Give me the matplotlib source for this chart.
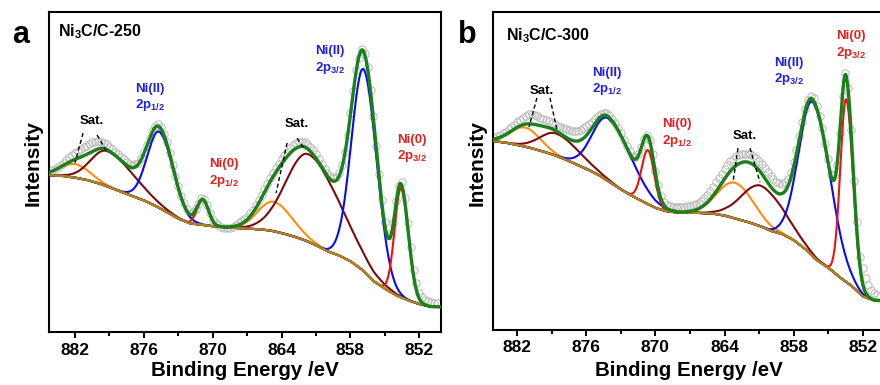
import numpy as np
import matplotlib
matplotlib.use('Agg')
import matplotlib.pyplot as plt

plt.rcParams['font.family'] = ['Liberation Sans', 'DejaVu Sans']
plt.rcParams['font.weight'] = 'bold'
plt.rcParams['mathtext.fontset'] = 'custom'
plt.rcParams['mathtext.rm'] = 'Liberation Sans:bold'
plt.rcParams['mathtext.it'] = 'Liberation Sans:bold'
plt.rcParams['mathtext.bf'] = 'Liberation Sans:bold'

# ---------------- data (binding energy in eV, intensity in arbitrary units) ----------
bg_energy = np.arange(884.0, 849.5, -1.0)
bg_a = [49.0, 48.8, 48.3, 47.6, 46.6, 45.3, 43.9, 42.5, 41.2, 39.5, 37.5, 35.5,
        34.0, 33.6, 33.1, 32.8, 32.6, 32.4, 32.2, 31.8, 31.0, 30.0, 28.8, 27.2,
        25.3, 24.0, 22.2, 19.6, 16.0, 13.6, 11.5, 10.0, 8.8, 8.0, 7.9]
bg_b = [59.4, 58.9, 58.2, 57.4, 56.4, 55.3, 53.9, 52.3, 50.7, 48.9, 46.6, 44.2,
        42.1, 40.2, 38.4, 37.3, 36.9, 36.9, 36.8, 36.6, 36.0, 35.0, 34.0, 32.8,
        31.2, 30.2, 28.3, 25.5, 22.0, 19.6, 16.6, 14.0, 10.6, 9.3, 9.1]

# measured points every 0.25 eV from 884.0 down to 850.5 (one row per eV)
data_a = [
    50.6, 51.0, 51.5, 52.2,   # 884
    53.0, 53.8, 54.6, 55.3,   # 883
    56.0, 56.7, 57.3, 57.8,   # 882
    58.2, 58.8, 59.3, 59.5,   # 881
    59.6, 59.5, 59.2, 58.7,   # 880
    58.0, 57.3, 56.4, 55.6,   # 879
    54.8, 54.0, 53.2, 52.6,   # 878
    52.3, 52.4, 53.0, 54.3,   # 877
    56.2, 58.5, 60.8, 63.0,   # 876
    64.5, 64.9, 64.0, 62.0,   # 875
    59.4, 56.0, 52.3, 48.9,   # 874
    45.6, 42.7, 40.3, 38.5,   # 873
    37.4, 37.5, 38.4, 40.2,   # 872
    41.8, 41.6, 39.6, 37.1,   # 871
    35.2, 34.1, 33.5, 33.0,   # 870
    32.7, 32.6, 32.6, 33.0,   # 869
    33.5, 34.0, 34.6, 35.3,   # 868
    36.0, 37.1, 38.3, 39.7,   # 867
    41.2, 42.9, 44.6, 46.4,   # 866
    48.2, 49.8, 51.3, 52.7,   # 865
    54.0, 55.3, 56.4, 57.5,   # 864
    58.4, 59.0, 59.4, 59.5,   # 863
    59.3, 58.7, 57.9, 56.8,   # 862
    55.6, 54.1, 52.6, 51.1,   # 861
    49.8, 48.9, 48.3, 48.6,   # 860
    49.6, 52.2, 56.2, 61.7,   # 859
    68.5, 75.3, 81.8, 85.5,   # 858
    88.5, 87.0, 82.8, 75.6,   # 857
    67.5, 58.2, 49.3, 41.2,   # 856
    34.5, 30.8, 30.3, 34.0,   # 855
    41.0, 45.6, 46.8, 42.0,   # 854
    34.0, 26.5, 19.5, 15.3,   # 853
    12.2, 10.9, 10.2, 9.8,    # 852
    9.5, 9.3, 9.2,            # 851
]
data_b = [
    60.5, 60.9, 61.3, 61.8,   # 884
    62.4, 63.1, 63.8, 64.5,   # 883
    65.3, 66.1, 66.8, 67.4,   # 882
    67.8, 67.8, 67.6, 67.2,   # 881
    66.8, 66.4, 66.0, 65.6,   # 880
    65.2, 64.8, 64.3, 63.8,   # 879
    63.4, 63.1, 62.8, 62.6,   # 878
    62.6, 62.7, 63.0, 63.4,   # 877
    64.0, 64.7, 65.5, 66.4,   # 876
    67.3, 68.0, 68.3, 68.1,   # 875
    67.5, 66.4, 65.0, 63.5,   # 874
    61.8, 59.9, 58.0, 56.2,   # 873
    54.8, 54.3, 55.2, 57.6,   # 872
    60.2, 61.2, 59.8, 55.3,   # 871
    50.0, 45.5, 42.2, 40.4,   # 870
    39.3, 38.9, 38.7, 38.6,   # 869
    38.6, 38.7, 38.8, 38.9,   # 868
    39.0, 39.2, 39.5, 40.0,   # 867
    40.6, 41.5, 42.5, 43.7,   # 866
    45.0, 46.4, 47.8, 49.2,   # 865
    50.5, 51.8, 53.0, 53.9,   # 864
    54.6, 55.1, 55.4, 55.5,   # 863
    55.5, 55.2, 54.8, 54.1,   # 862
    53.3, 52.2, 51.0, 49.7,   # 861
    48.4, 47.4, 46.6, 46.1,   # 860
    46.0, 46.5, 47.6, 49.7,   # 859
    52.8, 56.6, 61.0, 65.5,   # 858
    69.5, 72.2, 73.6, 73.0,   # 857
    70.5, 67.2, 63.5, 58.6,   # 856
    53.8, 49.0, 48.6, 52.0,   # 855
    62.0, 73.5, 80.8, 76.0,   # 854
    63.0, 47.0, 34.0, 23.0,   # 853
    19.5, 16.2, 14.0, 12.6,   # 852
    11.6, 10.9, 10.4,         # 851
]

# fitted components: satellite, satellite, Ni(II) 2p1/2, Ni(0) 2p1/2,
#                    satellite, satellite, Ni(II) 2p3/2, Ni(0) 2p3/2
comp_kind = ['sat1', 'sat2', 'ni2', 'ni0', 'sat1', 'sat2', 'ni2', 'ni0']
centers_a = [882.0, 879.2, 874.65, 870.87, 864.7, 861.66, 856.86, 853.6]
heights_a = [4.2, 11.0, 23.8, 7.8, 9.2, 27.3, 63.0, 34.0]
sig_hi_a = [1.3, 1.4, 1.05, 0.5, 1.35, 1.95, 1.05, 0.55]
sig_lo_a = [1.3, 2.3, 1.2, 0.5, 1.6, 2.7, 1.15, 0.65]

centers_b = [881.3, 878.6, 874.12, 870.65, 863.1, 860.8, 856.34, 853.44]
heights_b = [6.0, 7.0, 19.7, 17.0, 11.2, 12.8, 48.5, 57.4]
sig_hi_b = [1.3, 1.4, 1.35, 0.55, 1.5, 1.7, 1.2, 0.5]
sig_lo_b = [1.3, 2.0, 2.0, 0.55, 1.6, 1.9, 1.5, 0.6]

x_ticks = [882, 876, 870, 864, 858, 852]

# ---------------- style ----------------
kind_color = {'sat1': '#ff8c12', 'sat2': '#7a0c0c', 'ni2': '#0a0af5', 'ni0': '#f01010'}
bg_color = '#a08a22'
fit_color = '#1a8019'
pt_color = '#b8b8b8'
txt_blue = '#2222dd'
txt_red = '#e02222'

W, H = 880, 385
fig = plt.figure(figsize=(W / 100, H / 100), dpi=100)


def rect(l, t, r, b):
    return [l / W, 1 - b / H, (r - l) / W, (b - t) / H]


def pk(e, c, h, shi, slo):
    s = np.where(e >= c, shi, slo)
    return h * np.exp(-(e - c) ** 2 / (2 * s ** 2))


def draw(ax, bg, data, cs, hs, shs, sls, xlim):
    e = np.linspace(xlim[0], xlim[1], 1500)
    b = np.interp(e, bg_energy[::-1], np.asarray(bg)[::-1])
    data_energy = 884.0 - 0.25 * np.arange(len(data))
    ax.plot(data_energy, data, 'o', mfc='none', mec=pt_color, ms=5.3, mew=0.7, zorder=1)
    total = np.zeros_like(e)
    for k, c, h, s1, s2 in zip(comp_kind, cs, hs, shs, sls):
        p = pk(e, c, h, s1, s2)
        total += p
        ax.plot(e, b + p, color=kind_color[k], lw=1.5, zorder=2)
    ax.plot(e, b, color=bg_color, lw=1.6, zorder=3)
    ax.plot(e, b + total, color=fit_color, lw=2.4, zorder=4)
    ax.set_xlim(*xlim)
    ax.set_ylim(0, 100)
    ax.set_yticks([])
    ax.set_xticks(x_ticks)
    ax.set_xticks([t - 3 for t in x_ticks[:-1]], minor=True)
    ax.tick_params(axis='x', which='major', direction='out', length=4.5, width=1.4,
                   labelsize=12.5, pad=3)
    ax.tick_params(axis='x', which='minor', direction='out', length=3, width=1.4)
    for lab in ax.get_xticklabels():
        lab.set_fontweight('bold')
    for sp in ax.spines.values():
        sp.set_linewidth(1.5)


axa = fig.add_axes(rect(49.3, 12, 441, 332.3))
axb = fig.add_axes(rect(493.3, 12, 884.8, 330))
draw(axa, bg_a, data_a, centers_a, heights_a, sig_hi_a, sig_lo_a, (884.24, 850.11))
draw(axb, bg_b, data_b, centers_b, heights_b, sig_hi_b, sig_lo_b, (884.08, 850.08))


def label(ax, x, y1, y2, top, bottom, color):
    ax.text(x, y1, top, color=color, fontsize=9.5, fontweight='bold', va='baseline', ha='left')
    ax.text(x, y2, bottom, color=color, fontsize=9.5, fontweight='bold', va='baseline', ha='left')


p12 = r'2p$_{\mathregular{1/2}}$'
p32 = r'2p$_{\mathregular{3/2}}$'

# panel a annotations
axa.text(883.48, 92.5, r'Ni$_{\mathregular{3}}$C/C-250', fontsize=11.5, fontweight='bold', va='baseline')
label(axa, 876.77, 75.0, 69.9, 'Ni(II)', p12, txt_blue)
label(axa, 870.32, 51.5, 46.3, 'Ni(0)', p12, txt_red)
label(axa, 861.09, 86.8, 81.6, 'Ni(II)', p32, txt_blue)
label(axa, 853.94, 59.2, 54.0, 'Ni(0)', p32, txt_red)
axa.text(881.56, 65.0, 'Sat.', fontsize=9.5, fontweight='bold', va='baseline')
axa.text(863.70, 64.0, 'Sat.', fontsize=9.5, fontweight='bold', va='baseline')
for (x1, y1, x2, y2) in [(881.3, 62.2, 882.0, 52.9), (880.08, 61.6, 879.2, 56.25),
                         (863.52, 59.1, 864.48, 43.5), (862.65, 60.6, 861.95, 56.9)]:
    axa.plot([x1, x2], [y1, y2], color='black', lw=1.0, ls=(0, (3, 2)), zorder=5)

# panel b annotations
axb.text(883.0, 91.2, r'Ni$_{\mathregular{3}}$C/C-300', fontsize=11.5, fontweight='bold', va='baseline')
label(axb, 875.51, 80.0, 74.8, 'Ni(II)', p12, txt_blue)
label(axb, 869.43, 63.7, 58.6, 'Ni(0)', p12, txt_red)
label(axb, 859.72, 83.1, 78.0, 'Ni(II)', p32, txt_blue)
label(axb, 854.33, 91.5, 86.3, 'Ni(0)', p32, txt_red)
axb.text(880.9, 74.1, 'Sat.', fontsize=9.5, fontweight='bold', va='baseline')
axb.text(863.28, 60.0, 'Sat.', fontsize=9.5, fontweight='bold', va='baseline')
for (x1, y1, x2, y2) in [(880.29, 73.0, 880.98, 63.8), (879.16, 73.0, 878.55, 62.9),
                         (862.83, 57.2, 863.26, 46.5), (861.79, 57.2, 860.92, 46.5)]:
    axb.plot([x1, x2], [y1, y2], color='black', lw=1.0, ls=(0, (3, 2)), zorder=5)

# panel letters, axis labels
fig.text(12 / W, 1 - 43 / H, 'a', fontsize=22, fontweight='bold', va='baseline')
fig.text(458 / W, 1 - 43 / H, 'b', fontsize=22, fontweight='bold', va='baseline')
for cx in (33.3, 476.7):
    fig.text(cx / W, 1 - 163.3 / H, 'Intensity', rotation=90, fontsize=15,
             fontweight='bold', ha='center', va='center')
for cx in (245.2, 689.0):
    fig.text(cx / W, 1 - 376 / H, 'Binding Energy /eV', fontsize=14.8,
             fontweight='bold', ha='center', va='baseline')

fig.savefig('out.png', dpi=100)
